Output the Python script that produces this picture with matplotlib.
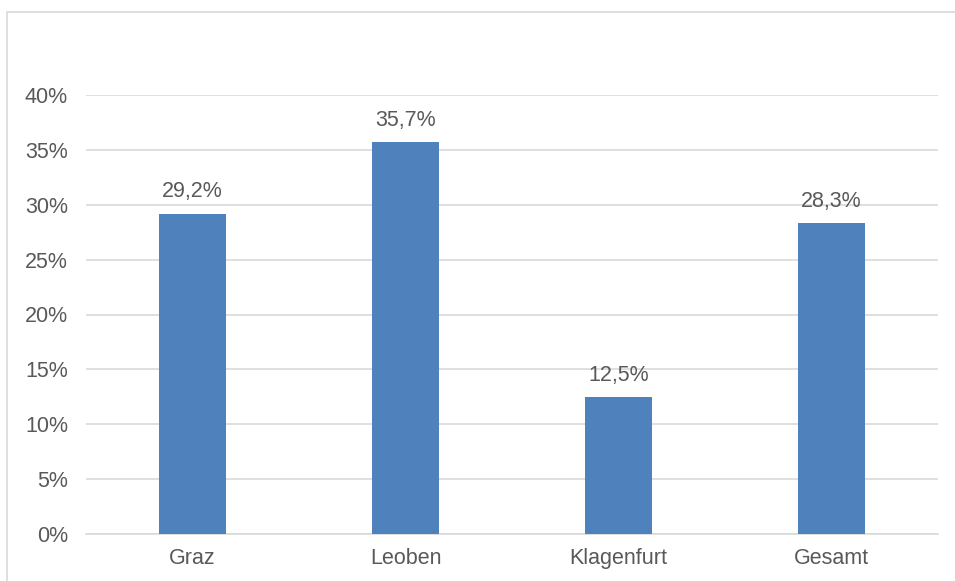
import matplotlib.pyplot as plt
from matplotlib.patches import Rectangle
from matplotlib.ticker import FuncFormatter

standorte = ["Graz", "Leoben", "Klagenfurt", "Gesamt"]
anteile = [29.2, 35.7, 12.5, 28.3]
y_ticks = [0, 5, 10, 15, 20, 25, 30, 35, 40]

plt.rcParams["font.family"] = ["Liberation Sans", "DejaVu Sans"]
text_col = "#595959"
grid_col = "#D9D9D9"

fig = plt.figure(figsize=(9.55, 5.81), dpi=100)
ax = fig.add_axes([86 / 955, 1 - 534 / 581, (938 - 86) / 955, (534 - 95) / 581])

# Rahmen um das Diagramm
fig.patches.append(Rectangle((7 / 955, -0.05), 1.1, 1 - 12 / 581 + 0.05,
                             transform=fig.transFigure, fill=False,
                             edgecolor=grid_col, linewidth=1.2))

x = range(len(standorte))
ax.bar(x, anteile, width=0.315, color="#4F81BD", zorder=3)

for xi, v in zip(x, anteile):
    ax.annotate(f"{v:.1f}%".replace(".", ","), xy=(xi, v), xytext=(0, 8),
                textcoords="offset points", ha="center", va="bottom",
                fontsize=15.5, color=text_col)

ax.set_xlim(-0.5, len(standorte) - 0.5)
ax.set_ylim(0, 40)
ax.set_yticks(y_ticks)
ax.yaxis.set_major_formatter(FuncFormatter(lambda v, _: f"{v:.0f}%"))
ax.set_xticks(list(x))
ax.set_xticklabels(standorte)
ax.tick_params(axis="both", length=0, labelsize=15.5, labelcolor=text_col)
ax.tick_params(axis="y", pad=13)
ax.tick_params(axis="x", pad=10)
ax.grid(axis="y", color=grid_col, linewidth=1.2, zorder=0)
for s in ["top", "right", "left"]:
    ax.spines[s].set_visible(False)
ax.spines["bottom"].set_color(grid_col)
ax.spines["bottom"].set_linewidth(1.2)

fig.savefig("out.png", dpi=100)
